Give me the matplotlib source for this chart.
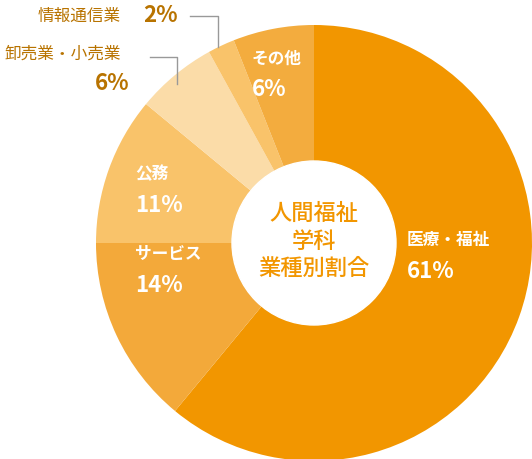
import matplotlib
matplotlib.use("Agg")
import matplotlib.pyplot as plt
from matplotlib.patches import Circle

plt.rcParams['font.family'] = ['Noto Sans CJK JP', 'DejaVu Sans']

labels = ["医療・福祉", "サービス", "公務", "卸売業・小売業", "情報通信業", "その他"]
values = [61, 14, 11, 6, 2, 6]
colors = ["#F29600", "#F3A93A", "#F9C36A", "#FBDCA8", "#F9C36A", "#F3AC3E"]

fig = plt.figure(figsize=(5.32, 4.59), dpi=100)
ax = fig.add_axes([0, 0, 1, 1])
cx, cy, r = 314, 216, 218
ax.pie(values, colors=colors, startangle=90, counterclock=False, radius=r, center=(cx, cy),
       wedgeprops=dict(edgecolor='none'), frame=True)
ax.set_xlim(0, 532); ax.set_ylim(0, 459); ax.set_aspect('equal'); ax.axis('off')
ax.add_patch(Circle((cx, cy), 82, color='white', zorder=5))
ax.text(cx, cy + 2, "人間福祉\n学科\n業種別割合", ha='center', va='center', color="#F29600",
        fontsize=16, fontweight='medium', linespacing=1.25, zorder=6)

def lab(x, y, name, pct, col='white', ha='left'):
    ax.text(x, y, name, color=col, fontsize=12, fontweight='bold', ha=ha, va='center')
    ax.text(x, y - 31, pct, color=col, fontsize=16, fontweight='bold', ha=ha, va='center')

lab(407, 219, labels[0], f"{values[0]}%")
lab(135, 205, labels[1], f"{values[1]}%")
lab(135, 285, labels[2], f"{values[2]}%")
lab(252, 400, labels[5], f"{values[5]}%", col='white')
oc = "#B87300"
ax.text(5, 405, labels[3], color=oc, fontsize=12, ha='left', va='center')
ax.text(112, 375, f"{values[3]}%", color=oc, fontsize=16, fontweight='bold', ha='center', va='center')
ax.text(38, 443, labels[4], color=oc, fontsize=12, ha='left', va='center')
ax.text(160, 443, f"{values[4]}%", color=oc, fontsize=16, fontweight='bold', ha='center', va='center')
lc = '#999999'
ax.plot([190, 218, 218], [443, 443, 412], color=lc, lw=1)
ax.plot([150, 177, 177], [402, 402, 375], color=lc, lw=1)
fig.savefig("out.png", dpi=100)
